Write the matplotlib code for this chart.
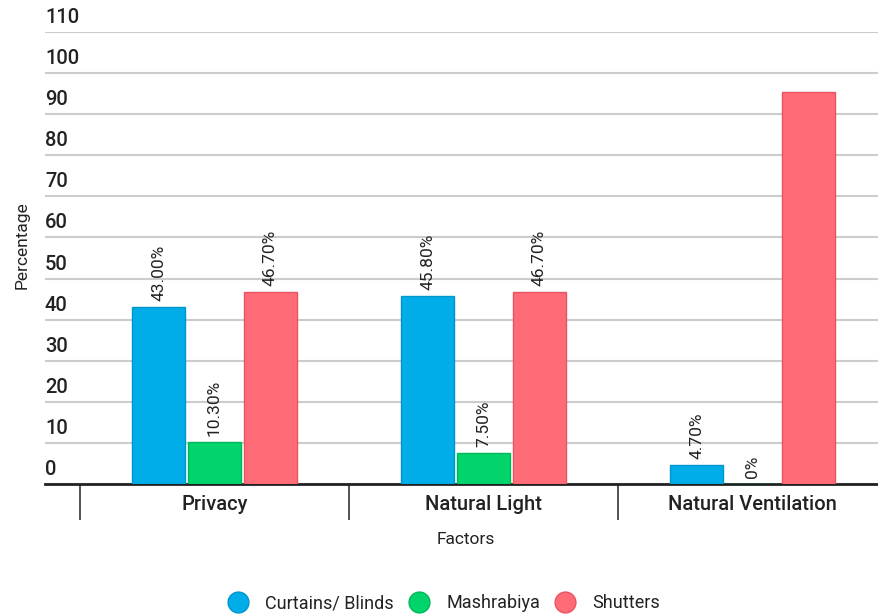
import matplotlib.pyplot as plt
from matplotlib import transforms
from matplotlib.lines import Line2D
import numpy as np

plt.rcParams['font.family'] = ['Roboto', 'DejaVu Sans']

factors = ["Privacy", "Natural Light", "Natural Ventilation"]
series = ["Curtains/ Blinds", "Mashrabiya", "Shutters"]
curtains = [43.0, 45.8, 4.7]
mashrabiya = [10.3, 7.5, 0.0]
shutters = [46.7, 46.7, 95.3]
curtains_labels = ["43.00%", "45.80%", "4.70%"]
mashrabiya_labels = ["10.30%", "7.50%", "0%"]
shutters_labels = ["46.70%", "46.70%", None]
yticks = list(range(0, 111, 10))

colors = ["#00ADE8", "#00D46A", "#FF6B76"]
edges = ["#0096CC", "#00B85C", "#E85562"]
text_col = "#222222"

fig = plt.figure(figsize=(8.79, 6.16), dpi=100)
ax = fig.add_axes([45 / 879, 1 - 484 / 616, 1 - 45 / 879, 452 / 616])

x = np.arange(len(factors))
width = 0.197
offsets = [-0.208, 0.0, 0.208]
values = [curtains, mashrabiya, shutters]
labels = [curtains_labels, mashrabiya_labels, shutters_labels]

for vals, labs, off, c, ec in zip(values, labels, offsets, colors, edges):
    ax.bar(x + off, vals, width, color=c, edgecolor=ec, linewidth=1, zorder=3)
    for xi, v, lab in zip(x, vals, labs):
        if lab is None:
            continue
        tr = transforms.offset_copy(ax.transData, fig=fig, x=0, y=6, units='dots')
        ax.text(xi + off, v, lab, rotation=90, ha='center', va='bottom',
                fontsize=12.5, color=text_col, transform=tr)

ax.set_xlim(-0.63, 2.47)
ax.set_ylim(0, 110)

ax.set_yticks(yticks)
ax.set_yticklabels([])
ax.tick_params(axis='y', length=0)
ax.grid(axis='y', color='#cccccc', linewidth=1.5, zorder=0)
for t in yticks:
    tr = transforms.offset_copy(ax.get_yaxis_transform(), fig=fig, x=0, y=5, units='dots')
    ax.text(0, t, str(t), ha='left', va='bottom', fontsize=14.5,
            fontweight='medium', color=text_col, transform=tr)

ax.set_xticks(x)
ax.set_xticklabels(factors, fontsize=14.5, fontweight='medium', color=text_col)
ax.tick_params(axis='x', length=0, pad=8)

for s in ['top', 'right', 'left']:
    ax.spines[s].set_visible(False)
ax.spines['bottom'].set_linewidth(2)
ax.spines['bottom'].set_color('#222222')

ax.vlines([-0.5, 0.5, 1.5], 0, -36 / 452, transform=ax.get_xaxis_transform(),
          colors='#444444', linewidth=1.3, clip_on=False)

fig.text(22 / 879, 1 - 245 / 616, "Percentage", rotation=90, ha='center',
         va='center', fontsize=12.5, color=text_col)
fig.text(466 / 879, 1 - 540 / 616, "Factors", ha='center', va='center',
         fontsize=12.5, color=text_col)

handles = [Line2D([], [], marker='o', linestyle='', markersize=15,
                  markerfacecolor=c, markeredgecolor=ec, markeredgewidth=1)
           for c, ec in zip(colors, edges)]
fig.legend(handles, series, loc='center', bbox_to_anchor=(440 / 879, 1 - 603 / 616),
           ncol=3, frameon=False, fontsize=13, handletextpad=0.5,
           columnspacing=0.4, labelcolor=text_col)

fig.savefig("out.png", dpi=100)
